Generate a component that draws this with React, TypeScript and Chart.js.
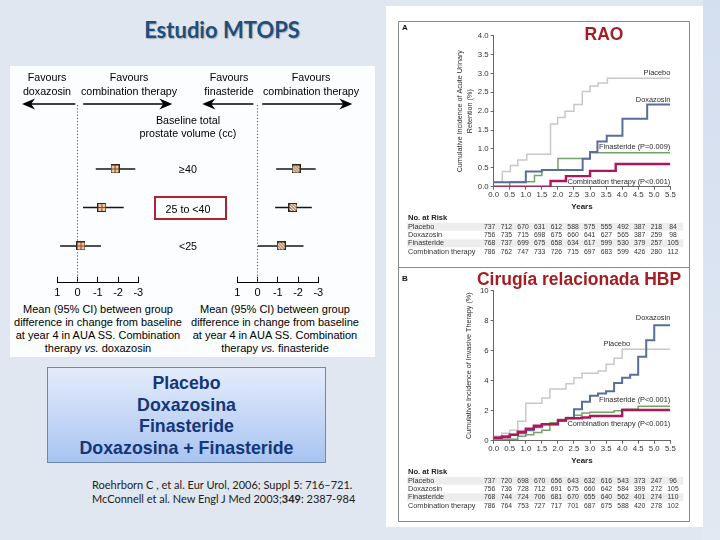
import React, { useEffect, useRef } from "react";
import { Chart, registerables } from "chart.js";

Chart.register(...registerables);

const SANS = '"Liberation Sans", Arial, sans-serif';
const LATO = 'Lato, "Open Sans", sans-serif';

// ---------- Forest plot: change in AUA SS at year 4, by baseline prostate volume ----------
const volumeGroups = ["≥40", "25 to <40", "<25"];
const groupRows = [1, 2, 3];
const doxMean = [-1.85, -1.2, -0.17];
const doxLow = [-0.9, -0.27, 0.86];
const doxHigh = [-2.85, -2.28, -1.16];
const finMean = [-1.9, -1.75, -1.17];
const finLow = [-0.92, -0.87, -0.02];
const finHigh = [-2.87, -2.68, -2.27];
const forestTickValues = [1, 0, -1, -2, -3];

// ---------- Panel A: acute urinary retention (RAO) ----------
const raoPlaceboX = [0, 0.27, 0.52, 0.75, 1.03, 1.77, 1.99, 2.22, 2.5, 2.76, 3.0, 3.25, 3.54, 5.5];
const raoPlaceboY = [0.13, 0.4, 0.56, 0.71, 0.86, 1.66, 1.83, 2.0, 2.18, 2.52, 2.67, 2.75, 2.87, 2.87];
const raoDoxX = [0, 1.0, 1.5, 2.77, 3.0, 3.23, 3.52, 4.01, 4.78, 5.5];
const raoDoxY = [0.12, 0.4, 0.44, 0.74, 0.92, 1.2, 1.35, 1.8, 2.18, 2.18];
const raoFinX = [0, 0.5, 1.27, 1.5, 2.0, 3.0, 5.5];
const raoFinY = [0, 0.13, 0.3, 0.44, 0.75, 0.9, 0.9];
const raoComboX = [0, 1.77, 2.25, 3.0, 3.8, 5.5];
const raoComboY = [0, 0.15, 0.28, 0.42, 0.6, 0.6];
const raoLabels = ["Placebo", "Doxazosin", "Finasteride (P=0.009)", "Combination therapy (P<0.001)"];
const raoLabelX = [5.5, 5.5, 5.5, 5.5];
const raoLabelY = [3.01, 2.3, 1.06, 0.12];
const raoRiskPlacebo = [737, 712, 670, 631, 612, 588, 575, 555, 492, 387, 218, 84];
const raoRiskDox = [756, 735, 715, 698, 675, 660, 641, 627, 565, 387, 259, 98];
const raoRiskFin = [768, 737, 699, 675, 658, 634, 617, 599, 530, 379, 257, 105];
const raoRiskCombo = [786, 762, 747, 733, 726, 715, 697, 683, 599, 426, 280, 112];

// ---------- Panel B: BPH-related invasive therapy ----------
const hbpPlaceboX = [0, 0.25, 0.5, 0.75, 1.0, 1.5, 1.75, 2.25, 2.5, 2.75, 3.25, 3.5, 3.75, 4.0, 5.5];
const hbpPlaceboY = [0.3, 0.5, 0.7, 1.3, 2.5, 2.85, 3.45, 3.8, 4.2, 4.5, 4.65, 5.1, 5.5, 6.1, 6.1];
const hbpDoxX = [0, 0.25, 0.5, 0.75, 1.0, 1.25, 1.5, 2.0, 2.25, 2.5, 2.75, 3.0, 3.25, 3.5, 3.75, 4.0, 4.25, 4.5, 4.75, 5.0, 5.5];
const hbpDoxY = [0.2, 0.3, 0.4, 0.5, 0.7, 0.9, 1.1, 1.4, 1.5, 2.1, 2.6, 3.0, 3.15, 3.3, 3.85, 4.2, 4.4, 5.6, 6.7, 7.7, 7.7];
const hbpFinX = [0, 0.75, 1.0, 1.25, 1.5, 1.75, 2.0, 2.25, 2.5, 2.75, 3.0, 3.75, 4.0, 4.5, 5.5];
const hbpFinY = [0.1, 0.3, 0.4, 0.55, 0.7, 1.2, 1.3, 1.55, 1.7, 1.85, 1.9, 2.0, 2.1, 2.3, 2.3];
const hbpComboX = [0, 0.25, 0.5, 0.75, 1.0, 1.25, 1.5, 2.0, 2.25, 2.75, 3.0, 4.0, 5.5];
const hbpComboY = [0.2, 0.25, 0.4, 0.6, 0.8, 1.0, 1.1, 1.35, 1.5, 1.55, 1.65, 2.05, 2.05];
const hbpLabels = ["Doxazosin", "Placebo", "Finasteride (P<0.001)", "Combination therapy (P<0.001)"];
const hbpLabelX = [5.5, 4.25, 5.5, 5.5];
const hbpLabelY = [8.18, 6.45, 2.71, 1.11];
const hbpRiskPlacebo = [737, 720, 698, 670, 656, 643, 632, 616, 543, 373, 247, 96];
const hbpRiskDox = [756, 736, 728, 712, 691, 675, 660, 642, 584, 399, 272, 105];
const hbpRiskFin = [768, 744, 724, 706, 681, 670, 655, 640, 562, 401, 274, 110];
const hbpRiskCombo = [786, 764, 753, 727, 717, 701, 687, 675, 588, 420, 278, 102];

const riskGroups = ["Placebo", "Doxazosin", "Finasteride", "Combination therapy"];
const riskTimes = [0, 0.5, 1, 1.5, 2, 2.5, 3, 3.5, 4, 4.5, 5, 5.5];

const COLORS = { placebo: "#c8c8c8", dox: "#5b6d99", fin: "#72a468", combo: "#b0175a" };

type Series = { x: number[]; y: number[]; color: string; width: number };

function makeMarker(kind: "grid" | "hatch") {
  const c = document.createElement("canvas");
  c.width = 9;
  c.height = 9;
  const g = c.getContext("2d")!;
  g.fillStyle = kind === "grid" ? "#efc6a0" : "#f1e0d0";
  g.fillRect(0, 0, 9, 9);
  g.strokeStyle = "#7a4e34";
  g.lineWidth = 1;
  g.beginPath();
  if (kind === "grid") {
    g.moveTo(4.5, 1); g.lineTo(4.5, 8); g.moveTo(1, 4.5); g.lineTo(8, 4.5);
  } else {
    for (let k = -9; k < 18; k += 3) { g.moveTo(k, 0); g.lineTo(k + 9, 9); }
  }
  g.stroke();
  g.strokeStyle = "#3a2418";
  g.strokeRect(0.5, 0.5, 8, 8);
  return c;
}

function drawArrow(ctx: CanvasRenderingContext2D, x1: number, x2: number, y: number) {
  const dir = x2 > x1 ? 1 : -1;
  const head = 13;
  ctx.strokeStyle = "#000";
  ctx.lineWidth = 1.5;
  ctx.beginPath();
  ctx.moveTo(x1, y);
  ctx.lineTo(x2 - dir * 8, y);
  ctx.stroke();
  ctx.fillStyle = "#000";
  ctx.beginPath();
  ctx.moveTo(x2, y);
  ctx.lineTo(x2 - dir * head, y - 5.5);
  ctx.lineTo(x2 - dir * (head - 4), y);
  ctx.lineTo(x2 - dir * head, y + 5.5);
  ctx.closePath();
  ctx.fill();
}

function ForestPanel(props: {
  left: number; top: number; width: number; height: number;
  padLeft: number; padRight: number;
  mean: number[]; low: number[]; high: number[];
  marker: "grid" | "hatch"; arrowFrom: number[]; arrowTo: number[];
}) {
  const ref = useRef<HTMLCanvasElement>(null);
  useEffect(() => {
    const p = props;
    const yMin = -0.662, yMax = 3.954;
    const markerImg = makeMarker(p.marker);
    const arrows = {
      id: "forestArrows",
      afterDraw(chart: any) {
        const ctx = chart.ctx as CanvasRenderingContext2D;
        const xs = chart.scales.x;
        const y = chart.chartArea.top - 1;
        ctx.save();
        p.arrowFrom.forEach((f, i) => drawArrow(ctx, xs.getPixelForValue(f), xs.getPixelForValue(p.arrowTo[i]), y));
        ctx.restore();
      },
    };
    const chart = new Chart(ref.current!, {
      type: "scatter",
      data: {
        datasets: [
          {
            data: groupRows.map((r, i) => ({ x: p.mean[i], y: r })),
            pointStyle: markerImg as any,
            pointRadius: 4.5,
            showLine: false,
          },
          ...groupRows.map((r, i) => ({
            data: [{ x: p.low[i], y: r }, { x: p.high[i], y: r }],
            showLine: true,
            borderColor: "#151515",
            borderWidth: 1.6,
            pointRadius: 0,
          })),
          {
            data: [{ x: 0, y: yMin }, { x: 0, y: yMax }],
            showLine: true,
            borderColor: "#555",
            borderWidth: 1,
            borderDash: [1.2, 2],
            pointRadius: 0,
          },
        ] as any,
      },
      options: {
        animation: false,
        responsive: false,
        devicePixelRatio: 1,
        layout: { padding: { left: p.padLeft, right: p.padRight, top: 39, bottom: p.height - 216.7 - 14 } },
        plugins: { legend: { display: false }, tooltip: { enabled: false } },
        scales: {
          x: {
            type: "linear",
            min: -3,
            max: 1,
            reverse: true,
            afterBuildTicks: (s: any) => { s.ticks = forestTickValues.map((v) => ({ value: v })); },
            afterFit: (s: any) => { s.height = 14; },
            ticks: { callback: (v: any) => String(v), color: "#000", font: { size: 11, family: SANS }, padding: 9.4, maxRotation: 0, autoSkip: false },
            grid: { drawOnChartArea: false, tickLength: -6, color: "#000", lineWidth: 1 },
            border: { color: "#000", width: 1 },
          },
          y: { display: false, min: yMin, max: yMax, reverse: true },
        },
      } as any,
      plugins: [arrows],
    });
    return () => chart.destroy();
  }, []);
  return (
    <canvas
      ref={ref}
      width={props.width}
      height={props.height}
      style={{ position: "absolute", left: props.left, top: props.top, width: props.width, height: props.height }}
    />
  );
}

function KMPanel(props: {
  left: number; top: number; width: number; height: number;
  yAxisWidth: number; padTop: number; padRight: number; padBottom: number;
  yMax: number; yStep: number; yDigits: number; yTitle: string | string[]; yTitlePad: number;
  series: Series[]; labels: string[]; labelX: number[]; labelY: number[]; riskRows: number[][];
}) {
  const ref = useRef<HTMLCanvasElement>(null);
  useEffect(() => {
    const p = props;
    const extras = {
      id: "kmExtras",
      afterDraw(chart: any) {
        const ctx = chart.ctx as CanvasRenderingContext2D;
        const xs = chart.scales.x, ys = chart.scales.y;
        const b = chart.chartArea.bottom;
        ctx.save();
        ctx.fillStyle = "#2a2a2a";
        ctx.font = `7.4px ${SANS}`;
        ctx.textAlign = "right";
        ctx.textBaseline = "middle";
        p.labels.forEach((t, i) => ctx.fillText(t, xs.getPixelForValue(p.labelX[i]), ys.getPixelForValue(p.labelY[i])));
        const rowOff = [31.5, 40, 48.3, 56.6, 65.4];
        const rightEdge = xs.getPixelForValue(5.5) + 13;
        ctx.fillStyle = "#ededed";
        [0, 2].forEach((r) => ctx.fillRect(8, b + rowOff[r + 1] - 4, rightEdge - 8, 8));
        ctx.fillStyle = "#222";
        ctx.textAlign = "left";
        ctx.font = `bold 7.6px ${SANS}`;
        ctx.fillText("No. at Risk", 9, b + rowOff[0]);
        riskGroups.forEach((g, r) => {
          const y = b + rowOff[r + 1];
          ctx.font = `7.3px ${SANS}`;
          ctx.fillStyle = "#333";
          ctx.textAlign = "left";
          ctx.fillText(g, 9, y);
          ctx.font = `6.8px ${SANS}`;
          ctx.textAlign = "center";
          p.riskRows[r].forEach((n, i) => ctx.fillText(String(n), xs.getPixelForValue(riskTimes[i] * 1.038) - 4, y));
        });
        ctx.restore();
      },
    };
    const chart = new Chart(ref.current!, {
      type: "line",
      data: {
        datasets: p.series.map((s) => ({
          data: s.x.map((x, i) => ({ x, y: s.y[i] })),
          borderColor: s.color,
          borderWidth: s.width,
          stepped: "before",
          pointRadius: 0,
          fill: false,
        })) as any,
      },
      options: {
        animation: false,
        responsive: false,
        devicePixelRatio: 1,
        layout: { padding: { left: 0, right: p.padRight, top: p.padTop, bottom: p.padBottom } },
        plugins: { legend: { display: false }, tooltip: { enabled: false } },
        scales: {
          x: {
            type: "linear",
            min: 0,
            max: 5.5,
            afterFit: (s: any) => { s.height = 25; },
            ticks: { stepSize: 0.5, callback: (v: any) => Number(v).toFixed(1), color: "#333", font: { size: 7.8, family: SANS }, padding: 0, maxRotation: 0, autoSkip: false },
            grid: { drawOnChartArea: false, tickLength: 3, color: "#666" },
            border: { color: "#666", width: 1 },
            title: { display: true, text: "Years", color: "#222", font: { size: 8, weight: "bold", family: SANS }, padding: { top: 0, bottom: 0 } },
          },
          y: {
            min: 0,
            max: p.yMax,
            afterFit: (s: any) => { s.width = p.yAxisWidth; },
            ticks: { stepSize: p.yStep, callback: (v: any) => Number(v).toFixed(p.yDigits), color: "#333", font: { size: 7.8, family: SANS }, padding: 2 },
            grid: { drawOnChartArea: false, tickLength: 3, color: "#666" },
            border: { color: "#666", width: 1 },
            title: { display: true, text: p.yTitle, color: "#2a2a2a", font: { size: 7.2, family: SANS, lineHeight: 1.4 }, padding: { top: p.yTitlePad, bottom: 0 } },
          },
        },
      } as any,
      plugins: [extras],
    });
    return () => chart.destroy();
  }, []);
  return (
    <canvas
      ref={ref}
      width={props.width}
      height={props.height}
      style={{ position: "absolute", left: props.left, top: props.top, width: props.width, height: props.height }}
    />
  );
}

function T(props: {
  x: number; y: number; text: string; size?: number; lh?: number; align?: "center" | "left";
  weight?: string | number; color?: string; family?: string; extra?: React.CSSProperties;
}) {
  const lh = props.lh ?? Math.round((props.size ?? 11) * 1.2);
  const center = (props.align ?? "center") === "center";
  return (
    <div
      style={{
        position: "absolute",
        left: center ? props.x - 200 : props.x,
        top: props.y - lh / 2,
        width: center ? 400 : undefined,
        textAlign: center ? "center" : "left",
        fontSize: props.size ?? 11,
        lineHeight: lh + "px",
        fontWeight: props.weight ?? "normal",
        color: props.color ?? "#111",
        fontFamily: props.family ?? SANS,
        whiteSpace: "pre",
        ...props.extra,
      }}
    >
      {props.text}
    </div>
  );
}

const raoSeries: Series[] = [
  { x: raoComboX, y: raoComboY, color: COLORS.combo, width: 2.4 },
  { x: raoDoxX, y: raoDoxY, color: COLORS.dox, width: 2 },
  { x: raoFinX, y: raoFinY, color: COLORS.fin, width: 1.5 },
  { x: raoPlaceboX, y: raoPlaceboY, color: COLORS.placebo, width: 1.5 },
];
const hbpSeries: Series[] = [
  { x: hbpComboX, y: hbpComboY, color: COLORS.combo, width: 2.4 },
  { x: hbpDoxX, y: hbpDoxY, color: COLORS.dox, width: 2 },
  { x: hbpFinX, y: hbpFinY, color: COLORS.fin, width: 1.5 },
  { x: hbpPlaceboX, y: hbpPlaceboY, color: COLORS.placebo, width: 1.5 },
];

export default function App() {
  const footerLeft = "Mean (95% CI) between group\ndifference in change from baseline\nat year 4 in AUA SS. Combination";
  return (
    <div
      style={{
        position: "fixed",
        left: 0,
        top: 0,
        width: 720,
        height: 540,
        overflow: "hidden",
        background: "#e1e7f0",
        fontFamily: SANS,
      }}
    >
      {/* right decorative band */}
      <div style={{ position: "absolute", left: 703, top: 0, width: 17, height: 540, background: "linear-gradient(to bottom, #d3deef, #e2e9f3)" }} />

      {/* title */}
      <T x={222} y={30} text="Estudio MTOPS" size={22} weight="bold" color="#1f4e7c" family={LATO}
        extra={{ textShadow: "1px 1px 1px rgba(0,0,0,0.25)" }} />

      {/* forest plot area */}
      <div style={{ position: "absolute", left: 10, top: 66, width: 365, height: 291, background: "#fbfdfe" }} />
      <ForestPanel left={10} top={66} width={180} height={234} padLeft={47.3} padRight={51.7}
        mean={doxMean} low={doxLow} high={doxHigh} marker="grid" arrowFrom={[0.11, -0.28]} arrowTo={[2.74, -4.68]} />
      <ForestPanel left={190} top={66} width={184} height={234} padLeft={47.3} padRight={55.7}
        mean={finMean} low={finLow} high={finHigh} marker="hatch" arrowFrom={[0.21, -0.23]} arrowTo={[2.73, -4.68]} />

      <T x={47} y={77} lh={14} size={10.7} text={"Favours\ndoxazosin"} color="#000" />
      <T x={129} y={77} lh={14} size={10.7} text={"Favours\ncombination therapy"} color="#000" />
      <T x={229} y={77} lh={14} size={10.7} text={"Favours\nfinasteride"} color="#000" />
      <T x={311} y={77} lh={14} size={10.7} text={"Favours\ncombination therapy"} color="#000" />
      <T x={188} y={120} lh={13} size={10.7} text={"Baseline total\nprostate volume (cc)"} color="#000" />
      {volumeGroups.map((g, i) => (
        <T key={g} x={188} y={[169, 209, 246][i]} size={10.7} text={g} color="#000" />
      ))}
      <div style={{ position: "absolute", left: 154, top: 196, width: 69, height: 20, border: "2.5px solid #ad2430" }} />

      <div style={{ position: "absolute", left: 0, top: 0 }}>
        <T x={98} y={309.5} lh={13} size={11} text={footerLeft} color="#000" />
        <div style={{ position: "absolute", left: -102, top: 341.5, width: 400, textAlign: "center", fontSize: 11, lineHeight: "13px", color: "#000", fontFamily: SANS }}>
          therapy <i>vs.</i> doxazosin
        </div>
        <T x={275} y={309.5} lh={13} size={11} text={footerLeft} color="#000" />
        <div style={{ position: "absolute", left: 75, top: 341.5, width: 400, textAlign: "center", fontSize: 11, lineHeight: "13px", color: "#000", fontFamily: SANS }}>
          therapy <i>vs.</i> finasteride
        </div>
      </div>

      {/* legend box */}
      <div
        style={{
          position: "absolute",
          left: 47,
          top: 367,
          width: 277,
          height: 89,
          border: "1px solid #6f88b3",
          background: "linear-gradient(to bottom, #e4ecfb, #a8c4f1)",
          textAlign: "center",
          fontFamily: SANS,
          fontWeight: "bold",
          fontSize: 17.8,
          lineHeight: "21.7px",
          color: "#14367a",
          paddingTop: 5,
          boxSizing: "content-box",
        }}
      >
        <div>Placebo</div>
        <div>Doxazosina</div>
        <div>Finasteride</div>
        <div>Doxazosina + Finasteride</div>
      </div>

      {/* references */}
      <div style={{ position: "absolute", left: 92, top: 478, fontFamily: LATO, fontSize: 11, lineHeight: "14px", color: "#222", whiteSpace: "pre" }}>
        <div>Roehrborn C , et al. Eur Urol, 2006; Suppl 5: 716–721.</div>
        <div>McConnell et al. New Engl J Med 2003;<b>349</b>: 2387-984</div>
      </div>

      {/* right card */}
      <div style={{ position: "absolute", left: 386, top: 6, width: 317, height: 521, background: "#fff" }} />
      <div style={{ position: "absolute", left: 398, top: 20.5, width: 292, height: 501, border: "1px solid #8a8a8a", boxSizing: "border-box" }} />
      <div style={{ position: "absolute", left: 398, top: 266.5, width: 292, height: 1.5, background: "#8a8a8a" }} />

      <KMPanel left={399} top={22} width={291} height={244} yAxisWidth={94.7} padTop={13.7} padRight={19.7} padBottom={54.3}
        yMax={4} yStep={0.5} yDigits={1} yTitle={["Cumulative Incidence of Acute Urinary", "Retention (%)"]} yTitlePad={56.1}
        series={raoSeries} labels={raoLabels} labelX={raoLabelX} labelY={raoLabelY}
        riskRows={[raoRiskPlacebo, raoRiskDox, raoRiskFin, raoRiskCombo]} />
      <KMPanel left={399} top={268} width={291} height={253} yAxisWidth={94.7} padTop={22.7} padRight={19.7} padBottom={55.3}
        yMax={10} yStep={2} yDigits={0} yTitle="Cumulative Incidence of Invasive Therapy (%)" yTitlePad={65.1}
        series={hbpSeries} labels={hbpLabels} labelX={hbpLabelX} labelY={hbpLabelY}
        riskRows={[hbpRiskPlacebo, hbpRiskDox, hbpRiskFin, hbpRiskCombo]} />

      <T x={405} y={28} align="left" size={8} weight="bold" text="A" color="#111" extra={{ left: 402 }} />
      <T x={405} y={279} align="left" size={8} weight="bold" text="B" color="#111" extra={{ left: 402 }} />
      <T x={604} y={34} size={17.5} weight="bold" text="RAO" color="#a51d22" />
      <T x={579} y={279} size={17.5} weight="bold" text="Cirugía relacionada HBP" color="#a51d22" />
    </div>
  );
}
